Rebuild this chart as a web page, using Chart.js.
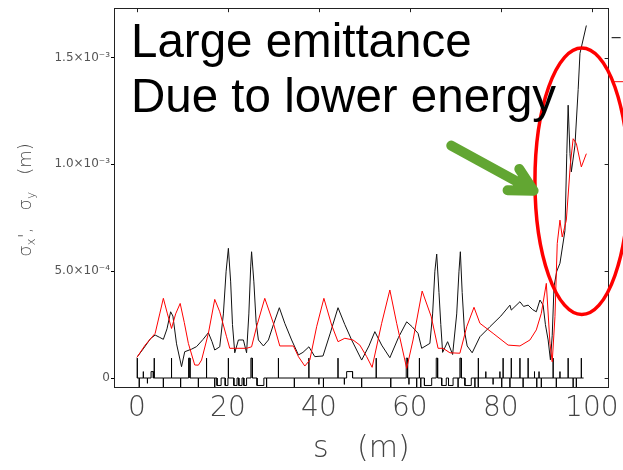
<!DOCTYPE html>
<html>
<head>
<meta charset="utf-8">
<script src="https://cdn.jsdelivr.net/npm/chart.js@4.4.0/dist/chart.umd.min.js"></script>
<style>
  html, body { margin: 0; padding: 0; background: #fff; }
</style>
</head>
<body>
<canvas id="myChart" width="623" height="470"></canvas>
<script>
// beam sizes along s (m), values in units of 1e-4 m
var sigx_s = [0, 1.5, 3.0, 4.0, 5.0, 5.8, 6.6, 7.4, 7.9, 8.7, 9.8, 10.5, 12.0, 13.1, 14.5, 15.7, 16.5, 17.1, 18.2, 19.0, 19.6, 20.1, 20.6, 21.0, 21.5, 22.3, 23.4, 24.1, 24.6, 25.0, 25.2, 25.7, 26.2, 26.7, 27.8, 28.9, 30.0, 31.3, 32.5, 34.0, 35.5, 36.5, 37.8, 39.1, 40.9, 42.5, 44.2, 45.7, 47.2, 49.4, 51.0, 52.3, 53.8, 55.6, 57.5, 59.3, 60.5, 61.8, 62.6, 64.4, 65.0, 65.5, 65.9, 66.4, 66.8, 67.2, 68.3, 69.4, 70.3, 70.8, 71.1, 71.5, 72.0, 72.6, 73.7, 75.4, 77.6, 80.0, 82.0, 82.3, 84.2, 85.0, 86.0, 87.0, 87.8, 88.6, 89.3, 89.8, 90.4, 90.9, 91.3, 91.7, 92.3, 93.0, 94.1, 94.5, 94.8, 95.2, 95.5, 96.3, 97.0, 97.4, 98.8]
var sigx = [0.97, 1.4, 1.85, 2.01, 1.9, 1.81, 2.3, 3.10, 2.9, 1.6, 0.53, 1.23, 1.35, 1.47, 1.8, 2.12, 1.7, 1.31, 1.46, 3.0, 5.0, 6.07, 4.5, 2.5, 1.18, 1.78, 1.78, 1.18, 3.0, 5.2, 5.91, 4.5, 2.6, 1.78, 1.50, 1.78, 2.5, 3.29, 2.56, 1.78, 1.08, 1.2, 1.46, 1.0, 1.03, 2.1, 3.29, 2.5, 1.78, 0.84, 1.5, 2.17, 1.54, 0.95, 1.9, 2.63, 2.4, 2.09, 1.39, 1.62, 3.0, 5.0, 5.8, 4.0, 2.5, 1.2, 1.70, 1.1, 3.0, 5.0, 5.91, 4.0, 2.2, 1.5, 1.18, 1.93, 2.40, 2.9, 3.41, 3.18, 3.57, 3.35, 3.41, 3.2, 3.10, 3.65, 3.41, 2.5, 1.78, 0.85, 2.0, 4.3, 5.0, 5.37, 6.9, 10.5, 12.77, 10.5, 9.65, 10.9, 13.5, 15.2, 16.5]

var sigy_s = [0, 1.8, 4.0, 5.0, 5.8, 6.7, 7.6, 8.5, 9.5, 10.4, 11.3, 12.7, 13.5, 14.2, 15.7, 17.1, 18.2, 19.7, 20.4, 22.0, 24.1, 25.2, 26.3, 28.1, 30.0, 31.4, 34.4, 35.5, 36.9, 38.0, 39.5, 41.1, 42.8, 44.2, 45.7, 47.5, 49.0, 50.5, 51.7, 53.8, 55.6, 57.1, 59.3, 60.7, 62.7, 64.7, 66.2, 67.3, 68.8, 71.0, 72.5, 74.1, 75.4, 78.3, 81.6, 84.2, 86.4, 87.8, 88.9, 90.0, 90.8, 91.3, 91.9, 92.4, 93.0, 93.5, 94.4, 95.3, 95.9, 96.6, 97.7, 98.8]
var sigy = [0.97, 1.54, 2.09, 3.0, 3.73, 3.0, 2.32, 3.0, 3.49, 2.6, 1.62, 0.61, 0.6, 0.84, 2.09, 3.68, 3.10, 1.93, 1.39, 1.39, 1.39, 1.46, 2.40, 3.73, 2.56, 1.50, 1.50, 1.0, 0.56, 0.84, 2.40, 3.73, 2.48, 1.70, 1.86, 1.78, 1.54, 1.0, 0.50, 2.56, 4.12, 2.56, 0.45, 1.78, 4.07, 2.87, 1.39, 1.39, 1.18, 1.16, 2.40, 3.31, 2.56, 2.09, 1.54, 1.50, 1.78, 2.25, 3.03, 4.43, 1.62, 0.76, 2.87, 6.3, 7.39, 6.6, 7.39, 10.04, 11.2, 10.98, 9.88, 10.5]

// lattice elements: start, end (m) and height (negative = below the axis)
var lat_start = [0.07, 0.5, 1.4, 2.3, 3.1, 3.8, 5.8, 7.6, 9.6, 11.35, 13.5, 15.3, 17.1, 17.6, 19.4, 20.1, 21.3, 22.4, 23.5, 25.05, 26.4, 28.5, 31.1, 34.6, 37.8, 40.0, 41.0, 44.2, 45.6, 46.1, 49.4, 52.6, 55.8, 59.2, 59.8, 61.5, 62.1, 62.4, 63.2, 65.8, 67.0, 68.5, 70.6, 71.0, 72.1, 74.3, 75.0, 75.1, 76.7, 78.3, 79.8, 80.2, 80.5, 82.0, 82.3, 84.2, 84.9, 86.0, 87.4, 87.9, 88.4, 88.9, 91.5, 92.2, 93.0, 94.8, 95.9, 96.6, 97.7]
var lat_end = [0.07, 0.5, 1.4, 2.3, 3.6, 3.8, 5.8, 7.6, 9.6, 11.65, 13.5, 15.3, 17.1, 18.5, 20.0, 20.1, 22.0, 23.1, 24.1, 25.35, 27.9, 28.5, 31.1, 34.6, 37.8, 40.0, 41.0, 44.2, 45.6, 47.4, 49.4, 52.6, 55.8, 59.5, 59.8, 61.5, 62.1, 62.4, 64.8, 66.1, 68.0, 69.5, 70.6, 71.3, 73.5, 74.3, 75.0, 75.1, 76.7, 78.3, 79.8, 80.2, 80.5, 82.0, 82.3, 84.2, 84.9, 86.0, 87.4, 87.9, 88.4, 88.9, 91.5, 92.2, 93.0, 94.8, 95.9, 96.6, 97.7]
var lat_h = [0.93, -1, 0.3, -0.25, 0.3, 0.93, -1, 0.93, -1, 0.93, -1, 0.93, -1, -0.35, -0.35, 0.93, -0.35, -0.35, -0.35, 0.93, -0.35, -1, 0.93, -1, 0.93, -0.3, -1, 0.93, -0.3, 0.3, -1, 0.93, -1, 0.93, -0.3, -1, 0.93, -1, -0.35, 0.93, -0.35, -0.35, -1, 0.93, -0.35, -1, 0.93, -1, 0.3, -0.3, 0.3, -1, 0.93, -1, 0.93, 0.93, -1, 0.93, 0.3, -0.6, 0.3, -0.6, 0.93, -1, 0.3, 0.93, -1, -1, 0.93]
var lat_begin = 0
var lat_stop = 98.2

var xTicks = [0, 20, 40, 60, 80, 100]
var yTicks = [0, 5, 10, 15]
var yTickLabels = ['0', '5.0\u00d710\u207b\u2074', '1.0\u00d710\u207b\u00b3', '1.5\u00d710\u207b\u00b3']

function toPoints(s, v) {
	var pts = []
	for (var i = 0; i < s.length; i++) pts.push({x: s[i], y: v[i]})
	return pts
}

var latPts = [{x: lat_begin, y: 0}]
for (var i = 0; i < lat_start.length; i++) {
	latPts.push({x: lat_start[i], y: 0})
	latPts.push({x: lat_start[i], y: lat_h[i]})
	latPts.push({x: lat_end[i], y: lat_h[i]})
	latPts.push({x: lat_end[i], y: 0})
}
latPts.push({x: lat_stop, y: 0})

// frame, inward ticks, annotation and the y title
var overlay = {
	id: 'overlay',
	afterDraw: function(chart) {
		var ctx = chart.ctx, a = chart.chartArea
		var xs = chart.scales.x, ys = chart.scales.y
		ctx.save()
		ctx.strokeStyle = '#222'
		ctx.lineWidth = 1
		ctx.strokeRect(Math.round(a.left) + 0.5, Math.round(a.top) + 0.5, Math.round(a.right - a.left) - 1, Math.round(a.bottom - a.top) - 1)
		ctx.beginPath()
		xTicks.forEach(function(v) {
			var px = Math.round(xs.getPixelForValue(v)) + 0.5
			ctx.moveTo(px, a.top)
			ctx.lineTo(px, a.top + 4)
		})
		yTicks.forEach(function(v) {
			var py = Math.round(ys.getPixelForValue(v)) + 0.5
			ctx.moveTo(a.right, py)
			ctx.lineTo(a.right - 4, py)
		})
		ctx.stroke()

		// legend stubs cut off at the right edge
		ctx.beginPath()
		ctx.strokeStyle = '#000'
		ctx.moveTo(a.right + 3, a.top + 29.5)
		ctx.lineTo(a.right + 12, a.top + 29.5)
		ctx.stroke()
		ctx.beginPath()
		ctx.strokeStyle = '#ff0000'
		ctx.moveTo(a.right + 3, a.top + 73.5)
		ctx.lineTo(chart.width, a.top + 73.5)
		ctx.stroke()

		// red ellipse
		var cx = xs.getPixelForValue(97.8), cy = ys.getPixelForValue(9.21)
		var rx = xs.getPixelForValue(97.8 + 10.3) - cx
		var ry = cy - ys.getPixelForValue(9.21 + 6.24)
		ctx.beginPath()
		ctx.ellipse(cx, cy, rx, ry, 0, 0, 2 * Math.PI)
		ctx.strokeStyle = '#ff0000'
		ctx.lineWidth = 3.5
		ctx.stroke()

		// green arrow
		var x0 = xs.getPixelForValue(69.1), y0 = ys.getPixelForValue(10.88)
		var x1 = xs.getPixelForValue(87.2), y1 = ys.getPixelForValue(8.77)
		var ang = Math.atan2(y1 - y0, x1 - x0)
		var head = 26, spread = 28 * Math.PI / 180
		ctx.strokeStyle = '#62a632'
		ctx.lineWidth = 10
		ctx.lineCap = 'round'
		ctx.lineJoin = 'round'
		ctx.beginPath()
		ctx.moveTo(x0, y0)
		ctx.lineTo(x1, y1)
		ctx.moveTo(x1 - head * Math.cos(ang - spread), y1 - head * Math.sin(ang - spread))
		ctx.lineTo(x1, y1)
		ctx.lineTo(x1 - head * Math.cos(ang + spread), y1 - head * Math.sin(ang + spread))
		ctx.stroke()

		// annotation
		ctx.fillStyle = '#000'
		ctx.font = '47.5px "Liberation Sans", Arial, sans-serif'
		ctx.textBaseline = 'alphabetic'
		ctx.textAlign = 'left'
		ctx.fillText('Large emittance', a.left + 17, a.top + 49)
		ctx.fillText('Due to lower energy', a.left + 17, a.top + 104)

		// y title with subscripts
		var parts = [['\u03c3', 18, 0], ['x', 12, 4], ["',", 18, 0], ['   ', 18, 0], ['\u03c3', 18, 0], ['y', 12, 4], ['   ', 18, 0], ['(m)', 18, 0]]
		ctx.translate(31, 200)
		ctx.rotate(-Math.PI / 2)
		ctx.fillStyle = '#444'
		var total = 0
		parts.forEach(function(p) {
			ctx.font = '300 ' + p[1] + 'px "DejaVu Sans"'
			total += ctx.measureText(p[0]).width
		})
		var tx = -total / 2
		parts.forEach(function(p) {
			ctx.font = '300 ' + p[1] + 'px "DejaVu Sans"'
			ctx.fillText(p[0], tx, p[2])
			tx += ctx.measureText(p[0]).width
		})
		ctx.restore()
	}
}

var myChart = document.getElementById('myChart').getContext('2d')
var chart = new Chart(myChart, {
	type: 'scatter',
	data: {
		datasets: [
			{
				label: 'sigma y',
				data: toPoints(sigy_s, sigy),
				showLine: true,
				borderColor: '#ff0000',
				borderWidth: 1,
				pointRadius: 0,
				tension: 0
			},
			{
				label: 'sigma x',
				data: toPoints(sigx_s, sigx),
				showLine: true,
				borderColor: '#111',
				borderWidth: 1,
				pointRadius: 0,
				tension: 0
			},
			{
				label: 'lattice',
				data: latPts,
				showLine: true,
				borderColor: '#000',
				borderWidth: 1,
				pointRadius: 0,
				tension: 0
			}
		]
	},
	options: {
		responsive: false,
		animation: false,
		events: [],
		layout: {padding: {left: 0, right: 14, top: 8, bottom: 0}},
		plugins: {legend: {display: false}, tooltip: {enabled: false}},
		scales: {
			x: {
				type: 'linear',
				min: -5.05,
				max: 103.7,
				afterBuildTicks: function(s) { s.ticks = xTicks.map(function(v) { return {value: v} }) },
				afterFit: function(s) { s.height = 82 },
				grid: {display: false, drawTicks: false},
				border: {display: false},
				ticks: {
					padding: 4,
					maxRotation: 0,
					color: '#444',
					font: {family: 'DejaVu Sans', size: 28, weight: '200'},
					callback: function(v) { return String(v) }
				},
				title: {
					display: true,
					text: 's   (m)',
					color: '#444',
					font: {family: 'DejaVu Sans', size: 30, weight: '200'},
					padding: {top: 0, bottom: 3}
				}
			},
			y: {
				type: 'linear',
				min: -0.468,
				max: 17.31,
				afterBuildTicks: function(s) { s.ticks = yTicks.map(function(v) { return {value: v} }) },
				afterFit: function(s) { s.width = 114 },
				grid: {display: true, drawOnChartArea: false, drawTicks: true, tickLength: 3, color: '#000'},
				border: {display: false},
				ticks: {
					padding: 1,
					color: '#555',
					font: {family: 'DejaVu Sans', size: 12},
					callback: function(v) { return yTickLabels[yTicks.indexOf(v)] }
				}
			}
		}
	},
	plugins: [overlay]
})
</script>
</body>
</html>
